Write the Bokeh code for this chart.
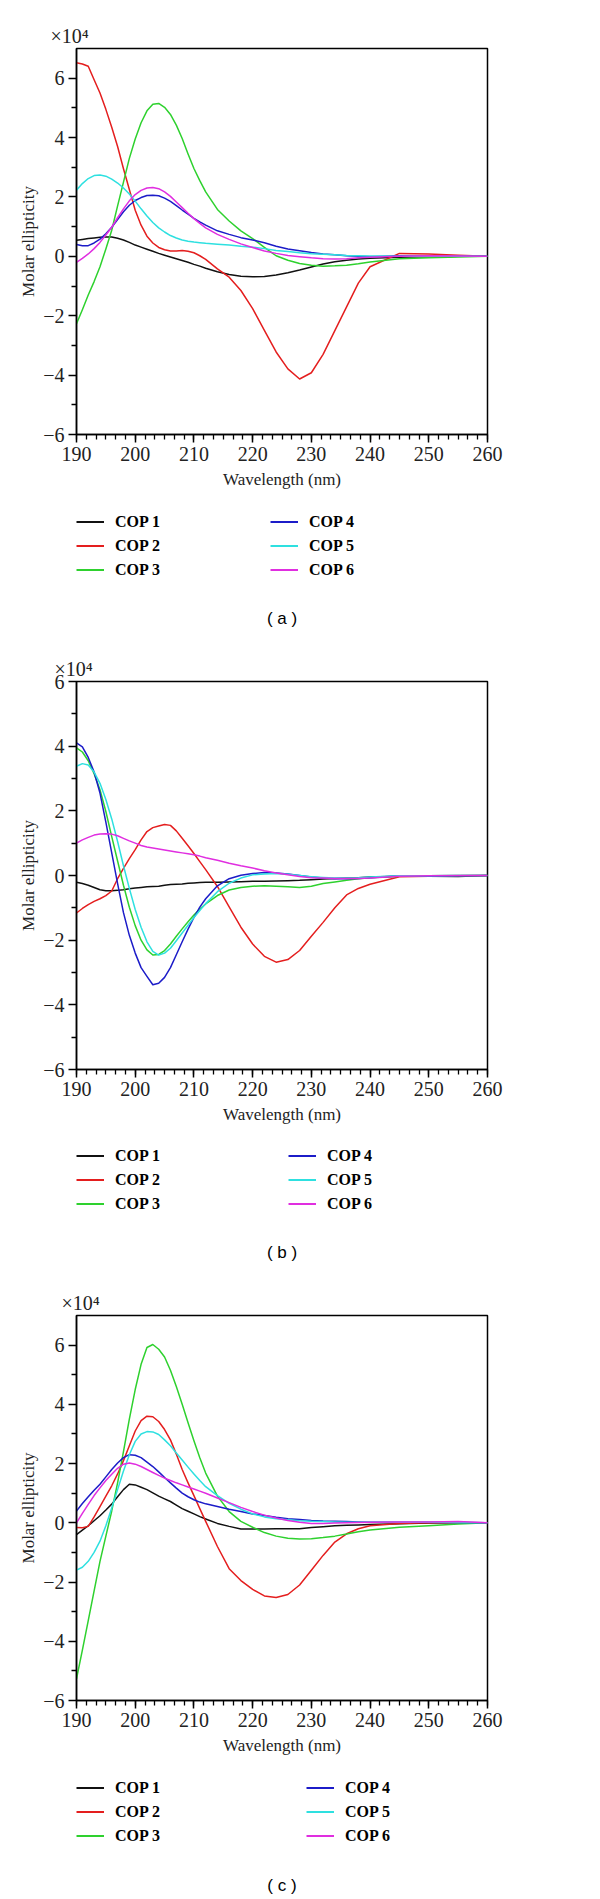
from bokeh.plotting import figure
from bokeh.models import Range1d, Legend, LegendItem, Label, FixedTicker, SingleIntervalTicker, ColumnDataSource
from bokeh.layouts import column
from bokeh.embed import file_html
from bokeh.resources import INLINE

# Wavelength (nm)
wavelength = [190, 191, 192, 193, 194, 195, 196, 197, 198, 199, 200, 201, 202, 203, 204, 205, 206, 207, 208, 209, 210, 211, 212,
              214, 216, 218, 220, 222, 224, 226, 228, 230, 232, 234, 236, 238, 240,
              245, 250, 255, 260]

# Molar ellipticity (x10^4) -- panel (a)
a_cop1 = [0.54, 0.57, 0.60, 0.62, 0.64, 0.65, 0.65, 0.61, 0.55, 0.47, 0.38, 0.31, 0.24, 0.17, 0.10, 0.04, -0.02, -0.08, -0.14, -0.20, -0.27, -0.33, -0.40,
          -0.52, -0.61, -0.67, -0.69, -0.68, -0.63, -0.55, -0.46, -0.36, -0.26, -0.18, -0.13, -0.09, -0.06,
          -0.03, -0.01, 0.0, 0.0]
a_cop2 = [6.52, 6.48, 6.40, 5.95, 5.50, 4.95, 4.35, 3.70, 2.95, 2.25, 1.55, 1.05, 0.68, 0.45, 0.30, 0.22, 0.18, 0.18, 0.20, 0.17, 0.12, 0.02, -0.10,
          -0.42, -0.70, -1.15, -1.76, -2.49, -3.22, -3.79, -4.13, -3.92, -3.30, -2.50, -1.70, -0.90, -0.35,
          0.10, 0.08, 0.04, 0.0]
a_cop3 = [-2.27, -1.80, -1.30, -0.85, -0.35, 0.25, 0.88, 1.70, 2.50, 3.30, 3.95, 4.50, 4.90, 5.12, 5.15, 5.02, 4.78, 4.42, 3.97, 3.45, 2.96, 2.55, 2.17,
          1.58, 1.19, 0.86, 0.60, 0.30, 0.02, -0.13, -0.24, -0.30, -0.33, -0.32, -0.30, -0.25, -0.19,
          -0.08, -0.05, -0.02, 0.0]
a_cop4 = [0.40, 0.36, 0.36, 0.45, 0.58, 0.76, 0.98, 1.24, 1.50, 1.72, 1.88, 1.98, 2.05, 2.06, 2.04, 1.96, 1.85, 1.71, 1.56, 1.42, 1.28, 1.16, 1.05,
          0.86, 0.74, 0.63, 0.55, 0.46, 0.34, 0.25, 0.19, 0.13, 0.08, 0.05, 0.02, 0.0, -0.01,
          0.02, 0.0, 0.0, 0.0]
a_cop5 = [2.23, 2.45, 2.62, 2.72, 2.74, 2.70, 2.60, 2.47, 2.30, 2.10, 1.86, 1.60, 1.36, 1.14, 0.96, 0.82, 0.70, 0.62, 0.55, 0.51, 0.48, 0.46, 0.44,
          0.41, 0.38, 0.34, 0.31, 0.26, 0.20, 0.16, 0.12, 0.09, 0.07, 0.05, 0.03, 0.02, 0.01,
          0.0, 0.0, 0.0, 0.0]
a_cop6 = [-0.20, -0.07, 0.08, 0.26, 0.47, 0.72, 0.98, 1.30, 1.60, 1.87, 2.08, 2.22, 2.30, 2.32, 2.28, 2.17, 2.02, 1.83, 1.64, 1.45, 1.27, 1.11, 0.96,
          0.74, 0.57, 0.42, 0.30, 0.18, 0.10, 0.03, -0.01, -0.05, -0.08, -0.09, -0.08, -0.05, -0.03,
          0.0, 0.02, 0.01, 0.0]

# panel (b)
b_cop1 = [-0.21, -0.25, -0.30, -0.37, -0.44, -0.47, -0.47, -0.46, -0.44, -0.41, -0.39, -0.37, -0.35, -0.34, -0.33, -0.30, -0.28, -0.27, -0.26, -0.24, -0.23, -0.22, -0.21,
          -0.21, -0.20, -0.19, -0.18, -0.18, -0.17, -0.16, -0.15, -0.13, -0.11, -0.09, -0.08, -0.07, -0.05,
          -0.02, -0.02, -0.03, 0.0]
b_cop2 = [-1.16, -1.02, -0.90, -0.80, -0.72, -0.62, -0.48, -0.10, 0.22, 0.52, 0.80, 1.10, 1.36, 1.48, 1.53, 1.58, 1.55, 1.38, 1.15, 0.92, 0.68, 0.43, 0.18,
          -0.34, -0.97, -1.60, -2.12, -2.50, -2.68, -2.60, -2.32, -1.88, -1.45, -1.00, -0.60, -0.40, -0.27,
          -0.04, -0.02, -0.01, 0.0]
b_cop3 = [3.95, 3.82, 3.55, 3.15, 2.65, 1.98, 1.20, 0.45, -0.30, -0.98, -1.55, -2.00, -2.30, -2.46, -2.44, -2.32, -2.12, -1.88, -1.65, -1.43, -1.22, -1.04, -0.88,
          -0.62, -0.45, -0.37, -0.33, -0.32, -0.33, -0.35, -0.37, -0.33, -0.25, -0.20, -0.15, -0.10, -0.07,
          -0.02, -0.01, 0.0, 0.0]
b_cop4 = [4.10, 3.98, 3.65, 3.20, 2.55, 1.65, 0.70, -0.25, -1.15, -1.85, -2.40, -2.85, -3.12, -3.38, -3.33, -3.15, -2.85, -2.45, -2.05, -1.66, -1.30, -0.98, -0.72,
          -0.32, -0.10, 0.01, 0.06, 0.09, 0.08, 0.05, 0.0, -0.05, -0.08, -0.10, -0.10, -0.09, -0.07,
          -0.01, -0.02, -0.01, 0.0]
b_cop5 = [3.38, 3.46, 3.42, 3.20, 2.85, 2.35, 1.75, 1.05, 0.30, -0.40, -1.05, -1.60, -2.05, -2.35, -2.46, -2.40, -2.25, -2.02, -1.78, -1.54, -1.30, -1.08, -0.87,
          -0.50, -0.24, -0.08, 0.02, 0.05, 0.06, 0.04, 0.0, -0.04, -0.06, -0.08, -0.08, -0.07, -0.05,
          -0.01, -0.01, 0.0, 0.0]
b_cop6 = [1.00, 1.10, 1.18, 1.25, 1.28, 1.29, 1.28, 1.23, 1.15, 1.07, 1.00, 0.93, 0.88, 0.85, 0.82, 0.79, 0.76, 0.73, 0.70, 0.67, 0.64, 0.60, 0.55,
          0.47, 0.38, 0.30, 0.23, 0.15, 0.08, 0.02, -0.03, -0.07, -0.08, -0.09, -0.09, -0.09, -0.08,
          -0.02, -0.01, 0.0, 0.0]

# panel (c)
c_cop1 = [-0.40, -0.25, -0.10, 0.07, 0.24, 0.43, 0.63, 0.88, 1.12, 1.30, 1.28, 1.20, 1.12, 1.01, 0.90, 0.81, 0.72, 0.60, 0.48, 0.39, 0.30, 0.21, 0.13,
          -0.02, -0.12, -0.21, -0.21, -0.21, -0.20, -0.20, -0.20, -0.16, -0.13, -0.10, -0.08, -0.07, -0.06,
          -0.03, -0.01, 0.0, 0.0]
c_cop2 = [-0.16, -0.17, -0.12, 0.20, 0.55, 0.90, 1.25, 1.65, 2.10, 2.60, 3.10, 3.45, 3.60, 3.58, 3.42, 3.15, 2.80, 2.32, 1.80, 1.35, 0.92, 0.48, 0.05,
          -0.80, -1.55, -1.95, -2.25, -2.47, -2.52, -2.42, -2.10, -1.60, -1.10, -0.65, -0.37, -0.20, -0.10,
          -0.02, 0.0, 0.0, 0.0]
c_cop3 = [-5.27, -4.30, -3.30, -2.30, -1.30, -0.45, 0.40, 1.35, 2.40, 3.50, 4.50, 5.35, 5.92, 6.02, 5.86, 5.60, 5.15, 4.60, 4.00, 3.38, 2.77, 2.20, 1.68,
          0.90, 0.38, 0.05, -0.15, -0.33, -0.45, -0.52, -0.55, -0.54, -0.50, -0.45, -0.38, -0.30, -0.24,
          -0.15, -0.10, -0.04, 0.0]
c_cop4 = [0.40, 0.65, 0.88, 1.10, 1.30, 1.55, 1.80, 2.02, 2.20, 2.30, 2.28, 2.20, 2.05, 1.90, 1.72, 1.53, 1.35, 1.17, 1.00, 0.88, 0.78, 0.70, 0.64,
          0.55, 0.46, 0.38, 0.30, 0.25, 0.19, 0.14, 0.11, 0.08, 0.06, 0.05, 0.04, 0.03, 0.02,
          0.02, 0.02, 0.01, 0.0]
c_cop5 = [-1.60, -1.50, -1.30, -1.00, -0.62, -0.10, 0.50, 1.12, 1.75, 2.30, 2.75, 3.00, 3.08, 3.07, 2.98, 2.80, 2.60, 2.36, 2.12, 1.88, 1.65, 1.43, 1.22,
          0.92, 0.66, 0.46, 0.30, 0.20, 0.14, 0.10, 0.07, 0.05, 0.04, 0.03, 0.02, 0.02, 0.02,
          0.02, 0.02, 0.01, 0.0]
c_cop6 = [0.0, 0.32, 0.62, 0.92, 1.18, 1.43, 1.64, 1.84, 1.98, 2.02, 1.98, 1.90, 1.80, 1.70, 1.60, 1.51, 1.43, 1.35, 1.28, 1.21, 1.14, 1.07, 1.00,
          0.84, 0.68, 0.52, 0.38, 0.26, 0.16, 0.08, 0.02, -0.02, -0.02, -0.01, 0.0, 0.01, 0.02,
          0.03, 0.03, 0.04, 0.0]

series_labels = ["COP 1", "COP 2", "COP 3", "COP 4", "COP 5", "COP 6"]
series_colors = ["#111111", "#e41e1e", "#2ed12e", "#1c1cc8", "#2ee0e0", "#e02ee0"]
y_ticks = [-6, -4, -2, 0, 2, 4, 6]
y_tick_labels = ["\u22126", "\u22124", "\u22122", "0", "2", "4", "6"]

SERIF = "Liberation Serif"
LEFT, RIGHT = 76, 113
FRAME_L, FRAME_R = LEFT, 600 - RIGHT


def make_plot(series, ymax, top, frame_h, exp_dx):
    p = figure(width=600, height=top + frame_h + 71,
               x_range=Range1d(190, 260), y_range=Range1d(-6, ymax),
               output_backend="svg", toolbar_location=None,
               title="\u00d710\u2074",
               min_border_left=LEFT, min_border_right=RIGHT,
               min_border_top=top, min_border_bottom=71,
               background_fill_color="white", border_fill_color="white")
    p.title.align = "left"
    p.title.offset = exp_dx
    p.title.text_font = SERIF
    p.title.text_font_size = "20px"
    p.title.text_font_style = "normal"
    p.title.text_color = "#222222"
    p.title.standoff = 4
    p.xgrid.visible = False
    p.ygrid.visible = False
    p.outline_line_color = "black"
    p.outline_line_width = 1.5
    p.outline_line_alpha = 1.0

    src = ColumnDataSource(dict(x=wavelength, **{f"s{i}": s for i, s in enumerate(series)}))
    for i, col in enumerate(series_colors):
        p.line("x", f"s{i}", source=src, line_color=col, line_width=1.5, line_join="round")

    p.xaxis.ticker = SingleIntervalTicker(interval=10, num_minor_ticks=6)
    p.yaxis.ticker = FixedTicker(ticks=y_ticks, minor_ticks=[-5, -3, -1, 1, 3, 5])
    p.yaxis.major_label_overrides = {t: l for t, l in zip(y_ticks, y_tick_labels)}

    for ax in (p.xaxis[0], p.yaxis[0]):
        ax.axis_line_width = 1.5
        ax.axis_line_color = "black"
        ax.major_tick_line_width = 1.5
        ax.minor_tick_line_width = 1.3
        ax.major_tick_line_color = "black"
        ax.minor_tick_line_color = "black"
        ax.major_tick_in = 0
        ax.major_tick_out = 8
        ax.minor_tick_in = 0
        ax.minor_tick_out = 5
        ax.major_label_text_font = SERIF
        ax.major_label_text_font_size = "20px"
        ax.major_label_text_color = "#222222"
        ax.axis_label_text_font = SERIF
        ax.axis_label_text_font_size = "17px"
        ax.axis_label_text_font_style = "normal"
        ax.axis_label_text_color = "#222222"
    p.xaxis.axis_label = "Wavelength (nm)"
    p.yaxis.axis_label = "Molar ellipticity"
    p.xaxis.major_label_standoff = 4
    p.xaxis.axis_label_standoff = 6
    p.yaxis.major_label_standoff = 4
    p.yaxis.axis_label_standoff = 2
    return p


def make_key(height, label_width, legend_top, caption, caption_y):
    # legend + caption strip below each panel; its data coordinates equal page pixels
    k = figure(width=600, height=height, x_range=Range1d(FRAME_L, FRAME_R), y_range=Range1d(0, height),
               output_backend="svg", toolbar_location=None,
               x_axis_type=None, y_axis_type=None,
               min_border_left=LEFT, min_border_right=RIGHT, min_border_top=0, min_border_bottom=0,
               outline_line_color=None,
               background_fill_color="white", border_fill_color="white")
    k.xgrid.visible = False
    k.ygrid.visible = False
    keys = []
    for col in series_colors:
        nothing = ColumnDataSource(dict(x=[float("nan")], y=[float("nan")]))
        keys.append(k.line("x", "y", source=nothing, line_color=col, line_width=2))
    items = [LegendItem(label=lab, renderers=[r]) for lab, r in zip(series_labels, keys)]
    legend_h = 3 * 19 + 2 * 5
    legend = Legend(items=items, nrows=3, orientation="vertical",
                    location=(0, height - legend_top - legend_h),
                    margin=0, padding=0, spacing=5,
                    glyph_width=28, glyph_height=19, label_height=19,
                    label_standoff=11, label_width=label_width,
                    label_text_font=SERIF, label_text_font_style="bold",
                    label_text_font_size="16px", label_text_color="black",
                    border_line_color=None, background_fill_alpha=0)
    k.add_layout(legend, "center")
    k.add_layout(Label(x=(FRAME_L + FRAME_R) / 2, y=height - caption_y, text=caption,
                       text_font="Liberation Sans", text_font_size="17px",
                       text_baseline="middle", text_align="center", text_color="black"))
    return k


pa = make_plot([a_cop1, a_cop2, a_cop3, a_cop4, a_cop5, a_cop6], 7, 48, 386, -26)
ka = make_key(135, 150, 7, "( a )", 113)
pb = make_plot([b_cop1, b_cop2, b_cop3, b_cop4, b_cop5, b_cop6], 6, 41, 388, -22)
kb = make_key(130, 168, 6, "( b )", 112)
pc = make_plot([c_cop1, c_cop2, c_cop3, c_cop4, c_cop5, c_cop6], 7, 45, 385, -15)
kc = make_key(128, 186, 7, "( c )", 114)

layout = column(pa, ka, pb, kb, pc, kc, spacing=0)
open("out.html", "w").write(file_html(layout, INLINE))
